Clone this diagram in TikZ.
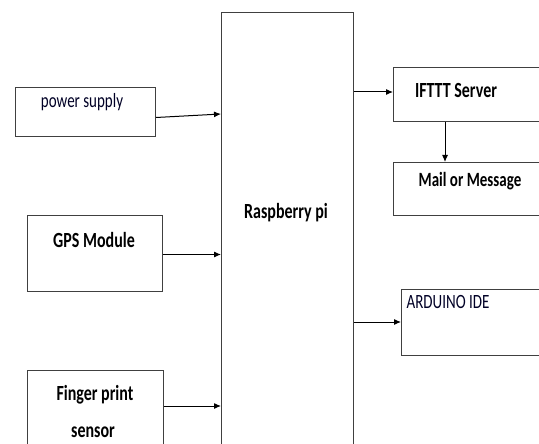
\documentclass[tikz,border=0pt]{standalone}
\usepackage{fontspec}
\setmainfont{Carlito}
\usetikzlibrary{arrows.meta,positioning}
\newcommand{\vtall}[1]{\scalebox{1}[1.35]{#1}}
\begin{document}
\begin{tikzpicture}[x=1pt,y=-1pt,
  box/.style={draw=black!75,line width=1pt,rectangle,inner sep=0pt,anchor=north west},
  bt/.style={font=\fontsize{16}{18}\selectfont\bfseries,inner sep=0pt},
  rt/.style={font=\fontsize{15}{17}\selectfont,inner sep=0pt,text=black!85!blue},
  arr/.style={draw=black,line width=1pt,-{Latex[length=7pt,width=6pt]}}]
\useasboundingbox (0,0) rectangle (539,444);
\clip (0,0) rectangle (539,444);
\fill[white] (0,0) rectangle (539,444);
% boxes
\node[box,minimum width=132pt,minimum height=460pt] (rpi) at (221,12) {};
\node[box,minimum width=140pt,minimum height=49pt] (ps) at (15,87) {};
\node[box,minimum width=135pt,minimum height=76pt] (gps) at (27,215) {};
\node[box,minimum width=136pt,minimum height=90pt] (fp) at (27,370) {};
\node[box,minimum width=146pt,minimum height=54pt] (ifttt) at (393,67) {};
\node[box,minimum width=146pt,minimum height=53pt] (mail) at (393,162) {};
\node[box,minimum width=138pt,minimum height=66pt] (ard) at (401,289) {};
% texts
\node[bt] (trpi) at (286,213) {\vtall{Raspberry pi}};
\node[rt] (tps) at (82,102) {\vtall{power supply}};
\node[bt] (tgps) at (94,240) {\vtall{GPS Module}};
\node[bt] (tfp1) at (95,395) {\vtall{Finger print}};
\node[bt] (tfp2) at (93,432) {\vtall{sensor}};
\node[bt] (tift) at (456,90) {\vtall{IFTTT Server}};
\node[bt,font=\fontsize{15}{17}\selectfont\bfseries] (tmail) at (470,181) {\vtall{Mail or Message}};
\node[rt] (tard) at (448,302) {\vtall{ARDUINO IDE}};
% connectors
\coordinate (psin) at (221,114);
\draw[arr] ([yshift=-5.5pt]ps.east) -- (psin);
\draw[arr] ([yshift=-1pt]gps.east) -- ([yshift=-1pt]gps.east -| rpi.west);
\draw[arr] (fp.north east |- 0,406) -- (rpi.west |- 0,406);
\draw[arr] (rpi.east |- 0,92) -- (ifttt.west |- 0,92);
\draw[arr] (ifttt.south -| 445,0) -- (mail.north -| 445,0);
\draw[arr] (rpi.east |- 0,322) -- (ard.west |- 0,322);
\end{tikzpicture}
\end{document}
